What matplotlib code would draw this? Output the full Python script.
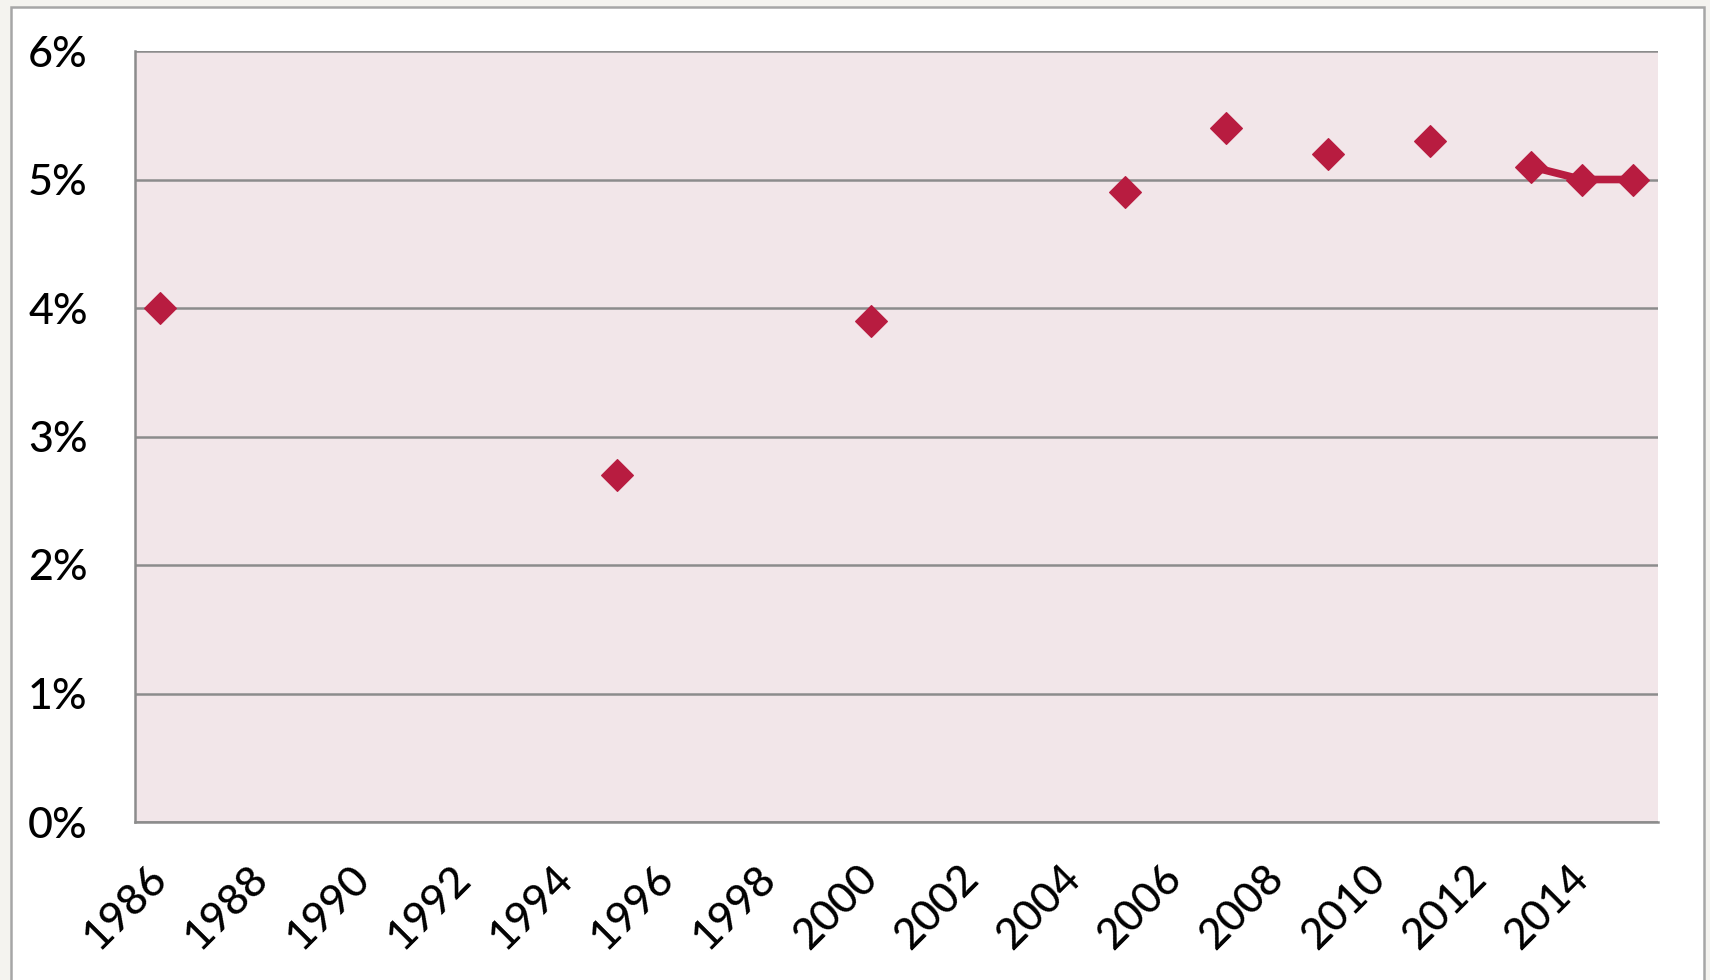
import matplotlib
matplotlib.use("Agg")
import matplotlib.pyplot as plt
from matplotlib.patches import Rectangle
import numpy as np

plt.rcParams['font.family'] = ['Lato', 'DejaVu Sans']

years = list(range(1986, 2016))
obs_years = [1986, 1995, 2000, 2005, 2007, 2009, 2011, 2013, 2014, 2015]
obs_values = [4.0, 2.7, 3.9, 4.9, 5.4, 5.2, 5.3, 5.1, 5.0, 5.0]
y_ticks = [0, 1, 2, 3, 4, 5, 6]
y_labels = ["0%", "1%", "2%", "3%", "4%", "5%", "6%"]

# series over all categories, missing years as NaN (gaps)
vals = np.full(len(years), np.nan)
for yr, v in zip(obs_years, obs_values):
    vals[years.index(yr)] = v

W, H = 1710, 980
fig = plt.figure(figsize=(W / 100, H / 100), dpi=100)
fig.patch.set_facecolor("#f4f3ef")
frame = Rectangle((11 / W, -0.05), (1704 - 11) / W, 1.05 - 7 / H,
                  transform=fig.transFigure, facecolor="white",
                  edgecolor="#a6a6a6", linewidth=1.8, zorder=-10)
fig.patches.append(frame)

ax = fig.add_axes([135 / W, 1 - 822 / H, (1658 - 135) / W, (822 - 51) / H])
ax.set_zorder(1)
ax.set_facecolor("#f2e6e9")
x = np.arange(len(years))
color = "#b81c40"
ax.plot(x, vals, color=color, linewidth=5.5, marker="D", markersize=16.5,
        markeredgecolor=color, markeredgewidth=0.8, zorder=3, clip_on=False)

ax.set_xlim(-0.5, len(years) - 0.5)
ax.set_ylim(0, 6)
ax.set_yticks(y_ticks)
ax.set_yticklabels(y_labels)
ax.yaxis.grid(True, color="#8c8c8c", linewidth=1.8)
ax.set_axisbelow(True)

ax.set_xticks(x[::2])
ax.set_xticklabels([str(y) for y in years[::2]], rotation=45, ha="right",
                   va="center", rotation_mode="anchor")
ax.tick_params(axis="both", length=0, labelsize=31, colors="black")
ax.tick_params(axis="y", pad=34)
ax.tick_params(axis="x", pad=36)
for lab in ax.get_xticklabels() + ax.get_yticklabels():
    lab.set_fontweight("medium")

for s in ["top", "right"]:
    ax.spines[s].set_visible(False)
for s in ["left", "bottom"]:
    ax.spines[s].set_color("#8c8c8c")
    ax.spines[s].set_linewidth(1.8)

fig.savefig("out.png", dpi=100, facecolor=fig.get_facecolor())
